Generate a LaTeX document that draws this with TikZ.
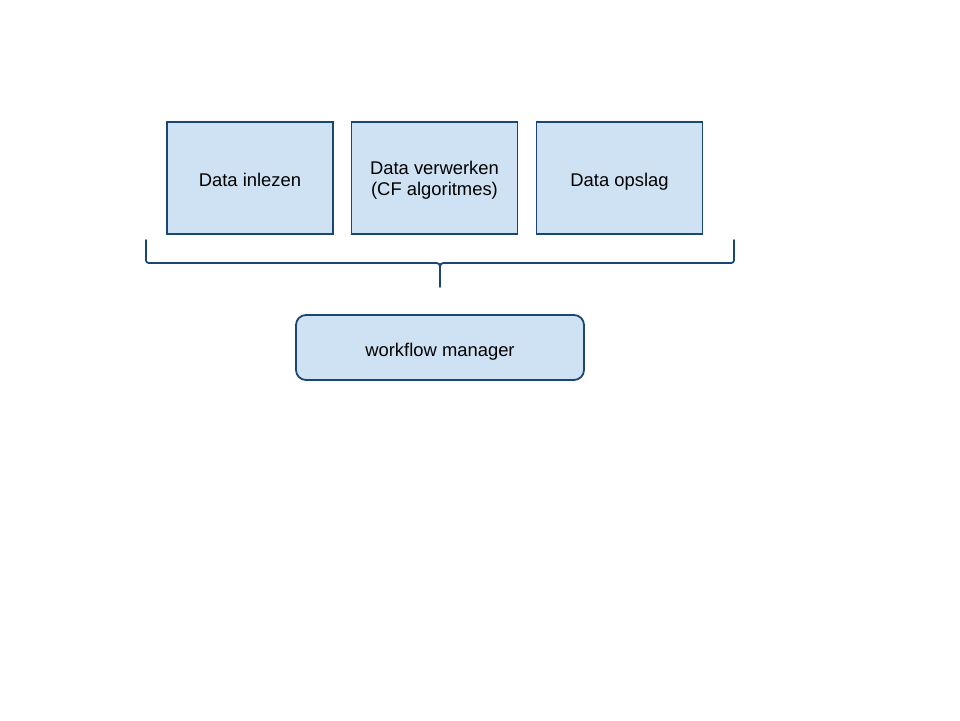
\documentclass[tikz,border=0pt]{standalone}
\usepackage{fontspec}
\setmainfont{Liberation Sans}
\begin{document}
\begin{tikzpicture}[x=1pt,y=-1pt,
  boxfont/.style={font=\fontsize{18.4}{20.5}\selectfont},
  stepbox/.style={draw=strokeblue, fill=fillblue, line width=1.8pt, minimum width=166pt, minimum height=112pt, inner sep=0pt, align=center, boxfont},
  roundbox/.style={draw=strokeblue, fill=fillblue, line width=1.8pt, rounded corners=10pt, minimum width=288pt, minimum height=65pt, inner sep=0pt, boxfont},
  bracestyle/.style={draw=strokeblue, line width=1.8pt, line cap=round, line join=round}]
\definecolor{strokeblue}{HTML}{1A4672}
\definecolor{fillblue}{HTML}{CFE2F3}
\useasboundingbox (0,0) rectangle (960,720);
\node[stepbox, text height=16pt, text depth=0pt] (n1) at (250,178) {Data inlezen};
\node[stepbox] (n2) at (434.5,178) {\rule{0pt}{17.5pt}Data verwerken\\(CF algoritmes)};
\node[stepbox, text height=16pt, text depth=0pt] (n3) at (619.5,178) {Data opslag};
\node[roundbox, text height=17pt, text depth=0pt] (wm) at (440,347.5) {workflow manager};
\coordinate (bl) at (146,240);
\coordinate (br) at (734,240);
\coordinate (bt) at (440,287);
\draw[bracestyle] (bl) -- (146,257) .. controls (146,263) .. (152,263) -- (433,263) .. controls (440,263) .. (440,271) -- (bt);
\draw[bracestyle] (br) -- (734,257) .. controls (734,263) .. (728,263) -- (447,263) .. controls (440,263) .. (440,271);
\end{tikzpicture}
\end{document}
